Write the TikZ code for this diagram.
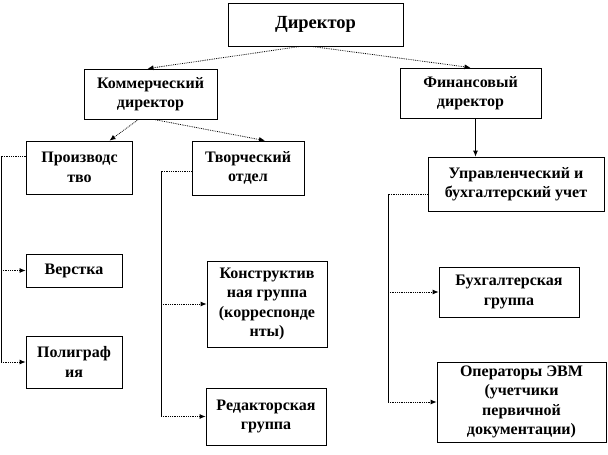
\documentclass[tikz,border=0pt]{standalone}
\usepackage{fontspec}
\setmainfont{Liberation Serif}
\usetikzlibrary{arrows.meta}
\begin{document}
\begin{tikzpicture}[x=1pt, y=-1pt,
            box/.style={draw, line width=0.8pt, fill=white, align=center, inner sep=0pt,
                font=\bfseries\fontsize{16}{19.5}\selectfont},
            dotarrow/.style={densely dotted, line width=0.8pt, -{Latex[length=6pt,width=5pt]}},
            stub/.style={densely dotted, line width=0.8pt},
            busline/.style={line width=0.8pt},
            solidarrow/.style={line width=0.8pt, -{Latex[length=6pt,width=5pt]}}
        ]
        \useasboundingbox (0,0) rectangle (608,455);
        \node[box, minimum width=175, minimum height=43, font=\bfseries\fontsize{18.5}{21}\selectfont] (dir) at (315.5,24.5) {Директор};
        \node[box, minimum width=133, minimum height=50] (kom) at (150.5,94) {Коммерческий\\директор};
        \node[box, minimum width=141, minimum height=50] (fin) at (470.5,93) {Финансовый\\директор};
        \node[box, minimum width=106, minimum height=53] (proizv) at (79.5,167.5) {Производс\\тво};
        \node[box, minimum width=112, minimum height=54] (tvor) at (248,168) {Творческий\\отдел};
        \node[box, minimum width=96, minimum height=33] (verst) at (74,270.5) {Верстка};
        \node[box, minimum width=96, minimum height=52] (polig) at (74,362) {Полиграф\\ия};
        \node[box, minimum width=120, minimum height=86] (konstr) at (267,304) {Конструктив\\ная группа\\(корреспонде\\нты)};
        \node[box, minimum width=120, minimum height=57] (redakt) at (266,416.5) {Редакторская\\группа};
        \node[box, minimum width=176, minimum height=54] (upr) at (516,184) {Управленческий и\\бухгалтерский учет};
        \node[box, minimum width=140, minimum height=50] (buh) at (509,292) {Бухгалтерская\\группа};
        \node[box, minimum width=169, minimum height=80] (oper) at (521.5,402) {Операторы ЭВМ\\(учетчики\\первичной\\документации)};

        % top levels
        \draw[dotarrow] ([xshift=-15pt]dir.south) -- ([xshift=-3pt]kom.north);
        \draw[dotarrow] ([xshift=-4pt]dir.south) -- (fin.north);
        \draw[dotarrow] ([xshift=-12pt]kom.south) -- ([xshift=30pt]proizv.north);
        \draw[dotarrow] ([xshift=3pt]kom.south) -- ([xshift=17pt]tvor.north);
        \draw[solidarrow] ([xshift=5pt]fin.south) -- ([xshift=5pt]fin.south |- upr.north);

        % buses
        \coordinate (pbus) at (1,156);
        \coordinate (tbus) at (161,171);
        \coordinate (ubus) at (388,194);
        \draw[stub] (proizv.west |- pbus) -- (pbus);
        \draw[busline] (pbus) -- (pbus |- polig.west);
        \draw[dotarrow] (pbus |- verst.west) -- (verst.west);
        \draw[dotarrow] (pbus |- polig.west) -- (polig.west);
        \draw[stub] (tvor.west |- tbus) -- (tbus);
        \draw[busline] (tbus) -- (tbus |- redakt.west);
        \draw[dotarrow] (tbus |- konstr.west) -- (konstr.west);
        \draw[dotarrow] (tbus |- redakt.west) -- (redakt.west);
        \draw[stub] (upr.west |- ubus) -- (ubus);
        \draw[busline] (ubus) -- (ubus |- oper.west);
        \draw[dotarrow] (ubus |- buh.west) -- (buh.west);
        \draw[dotarrow] (ubus |- oper.west) -- (oper.west);
\end{tikzpicture}
\end{document}
